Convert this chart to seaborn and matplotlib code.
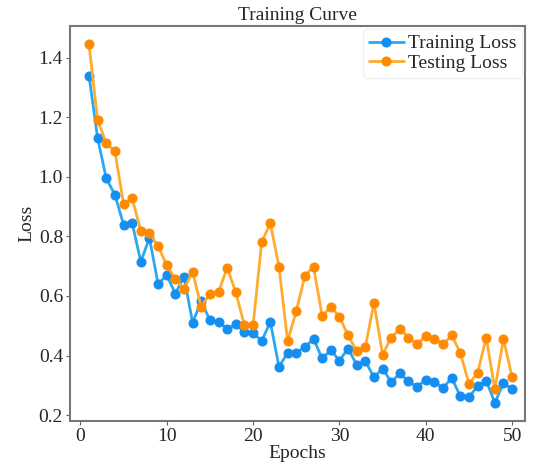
import numpy as np
import pandas as pd
import seaborn as sns
import matplotlib.pyplot as plt

# Werte
epochs = list(range(1, 51))
train_loss = [1.34, 1.13, 0.995, 0.94, 0.84, 0.845, 0.715, 0.795, 0.64, 0.67,
              0.608, 0.665, 0.51, 0.583, 0.518, 0.513, 0.489, 0.505, 0.478, 0.476,
              0.449, 0.513, 0.362, 0.409, 0.409, 0.428, 0.456, 0.39, 0.418, 0.383,
              0.423, 0.369, 0.381, 0.327, 0.356, 0.311, 0.34, 0.313, 0.295, 0.319,
              0.311, 0.29, 0.325, 0.263, 0.26, 0.297, 0.316, 0.241, 0.308, 0.286]
test_loss = [1.445, 1.191, 1.113, 1.086, 0.91, 0.928, 0.818, 0.811, 0.768, 0.703,
             0.658, 0.622, 0.681, 0.563, 0.608, 0.613, 0.695, 0.612, 0.501, 0.501,
             0.781, 0.844, 0.699, 0.448, 0.549, 0.667, 0.699, 0.532, 0.564, 0.53,
             0.468, 0.415, 0.428, 0.577, 0.403, 0.46, 0.49, 0.46, 0.439, 0.465,
             0.456, 0.437, 0.468, 0.409, 0.305, 0.342, 0.46, 0.286, 0.456, 0.327]

df = pd.DataFrame({'Epoch': epochs, 'Train': train_loss, 'Test': test_loss})

sns.set_style('ticks')
plt.rcParams['font.family'] = ['Liberation Serif', 'DejaVu Serif']
plt.rcParams['font.size'] = 14

fig = plt.figure(figsize=(5.36, 4.63), dpi=100)
ax = fig.add_axes([0.1306, 0.0914, 0.849, 0.8524])

sns.lineplot(data=df, x='Epoch', y='Train', ax=ax, color='#2aa8f2', linewidth=2,
             marker='o', markersize=6.5, markerfacecolor='#168ef0', markeredgecolor='#168ef0',
             label='Training Loss')
sns.lineplot(data=df, x='Epoch', y='Test', ax=ax, color='#ffab30', linewidth=2,
             marker='o', markersize=6.5, markerfacecolor='#ff8a00', markeredgecolor='#ff8a00',
             label='Testing Loss')

ax.set_xlim(-1.2, 51.5)
ax.set_ylim(0.181, 1.507)
ax.set_xticks([0, 10, 20, 30, 40, 50])
ax.set_yticks([0.2, 0.4, 0.6, 0.8, 1.0, 1.2, 1.4])
ax.set_yticklabels(['0.2', '0.4', '0.6', '0.8', '1.0', '1.2', '1.4'])
ax.set_title('Training Curve', fontsize=14, pad=4)
ax.set_xlabel('Epochs', fontsize=14, labelpad=0)
ax.set_ylabel('Loss', fontsize=14, labelpad=2)
ax.tick_params(labelsize=14, length=3, color='#666666', pad=2)
for s in ax.spines.values():
    s.set_color('#777777')
    s.set_linewidth(1.5)

leg = ax.legend(loc='upper right', fontsize=14, handlelength=1.8, borderpad=0.3,
                labelspacing=0.1, handletextpad=0.2, borderaxespad=0.15)
leg.get_frame().set_edgecolor('#eeeeee')

plt.savefig('out.png', dpi=100)
